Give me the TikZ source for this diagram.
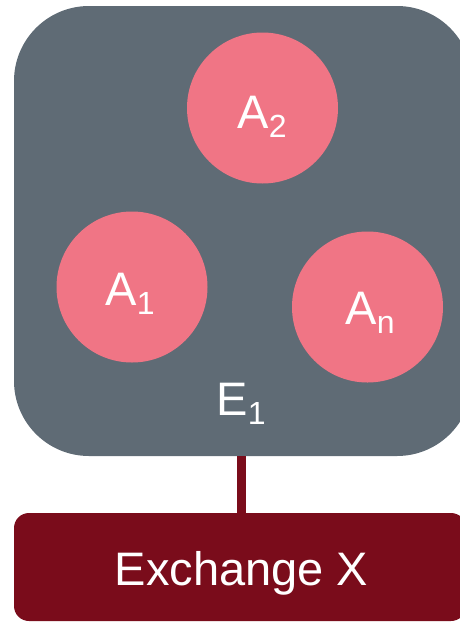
\documentclass[tikz,border=0pt]{standalone}
\usepackage{fontspec}
\setmainfont{Liberation Sans}
\definecolor{envgray}{RGB}{95,107,117}
\definecolor{agentpink}{RGB}{240,117,133}
\definecolor{exred}{RGB}{122,12,27}
% subscript lowered below the baseline
\newcommand{\lowidx}[1]{\raisebox{-9pt}{\fontsize{32}{32}\selectfont #1}}
\begin{document}
\begin{tikzpicture}[x=1pt,y=-1pt,
  envbox/.style={rectangle, rounded corners=75pt, fill=envgray, draw=none,
    minimum width=458pt, minimum height=450pt, inner sep=0pt},
  agent/.style={circle, fill=agentpink, draw=none, minimum size=151pt, inner sep=0pt},
  exbox/.style={rectangle, rounded corners=15pt, fill=exred, draw=none,
    minimum width=452pt, minimum height=108pt, inner sep=0pt},
  lbl/.style={text=white, anchor=base, inner sep=0pt, font=\fontsize{47}{47}\selectfont},
  link/.style={draw=exred, line width=9pt}]
\useasboundingbox (0,0) rectangle (459,622);
% environment and exchange
\node[envbox] (env) at (243,231) {};
\node[exbox] (exch) at (240,567) {};
\draw[link] ([xshift=-2pt]env.south) -- ([xshift=-2pt]env.south |- exch.north);
% agents
\node[agent] (a2) at (262.5,108) {};
\node[agent] (a1) at (132,287) {};
\node[agent] (an) at (367.5,307) {};
% labels
\node[lbl] (a2t) at (262,128) {A\lowidx{2}};
\node[lbl] (a1t) at (130,305) {A\lowidx{1}};
\node[lbl] (ant) at (370,324) {A\lowidx{n}};
\node[lbl] (e1t) at (241,415) {E\lowidx{1}};
\node[lbl, font=\fontsize{47}{47}\selectfont] (ext) at (241.5,585) {Exchange X};
\end{tikzpicture}
\end{document}
